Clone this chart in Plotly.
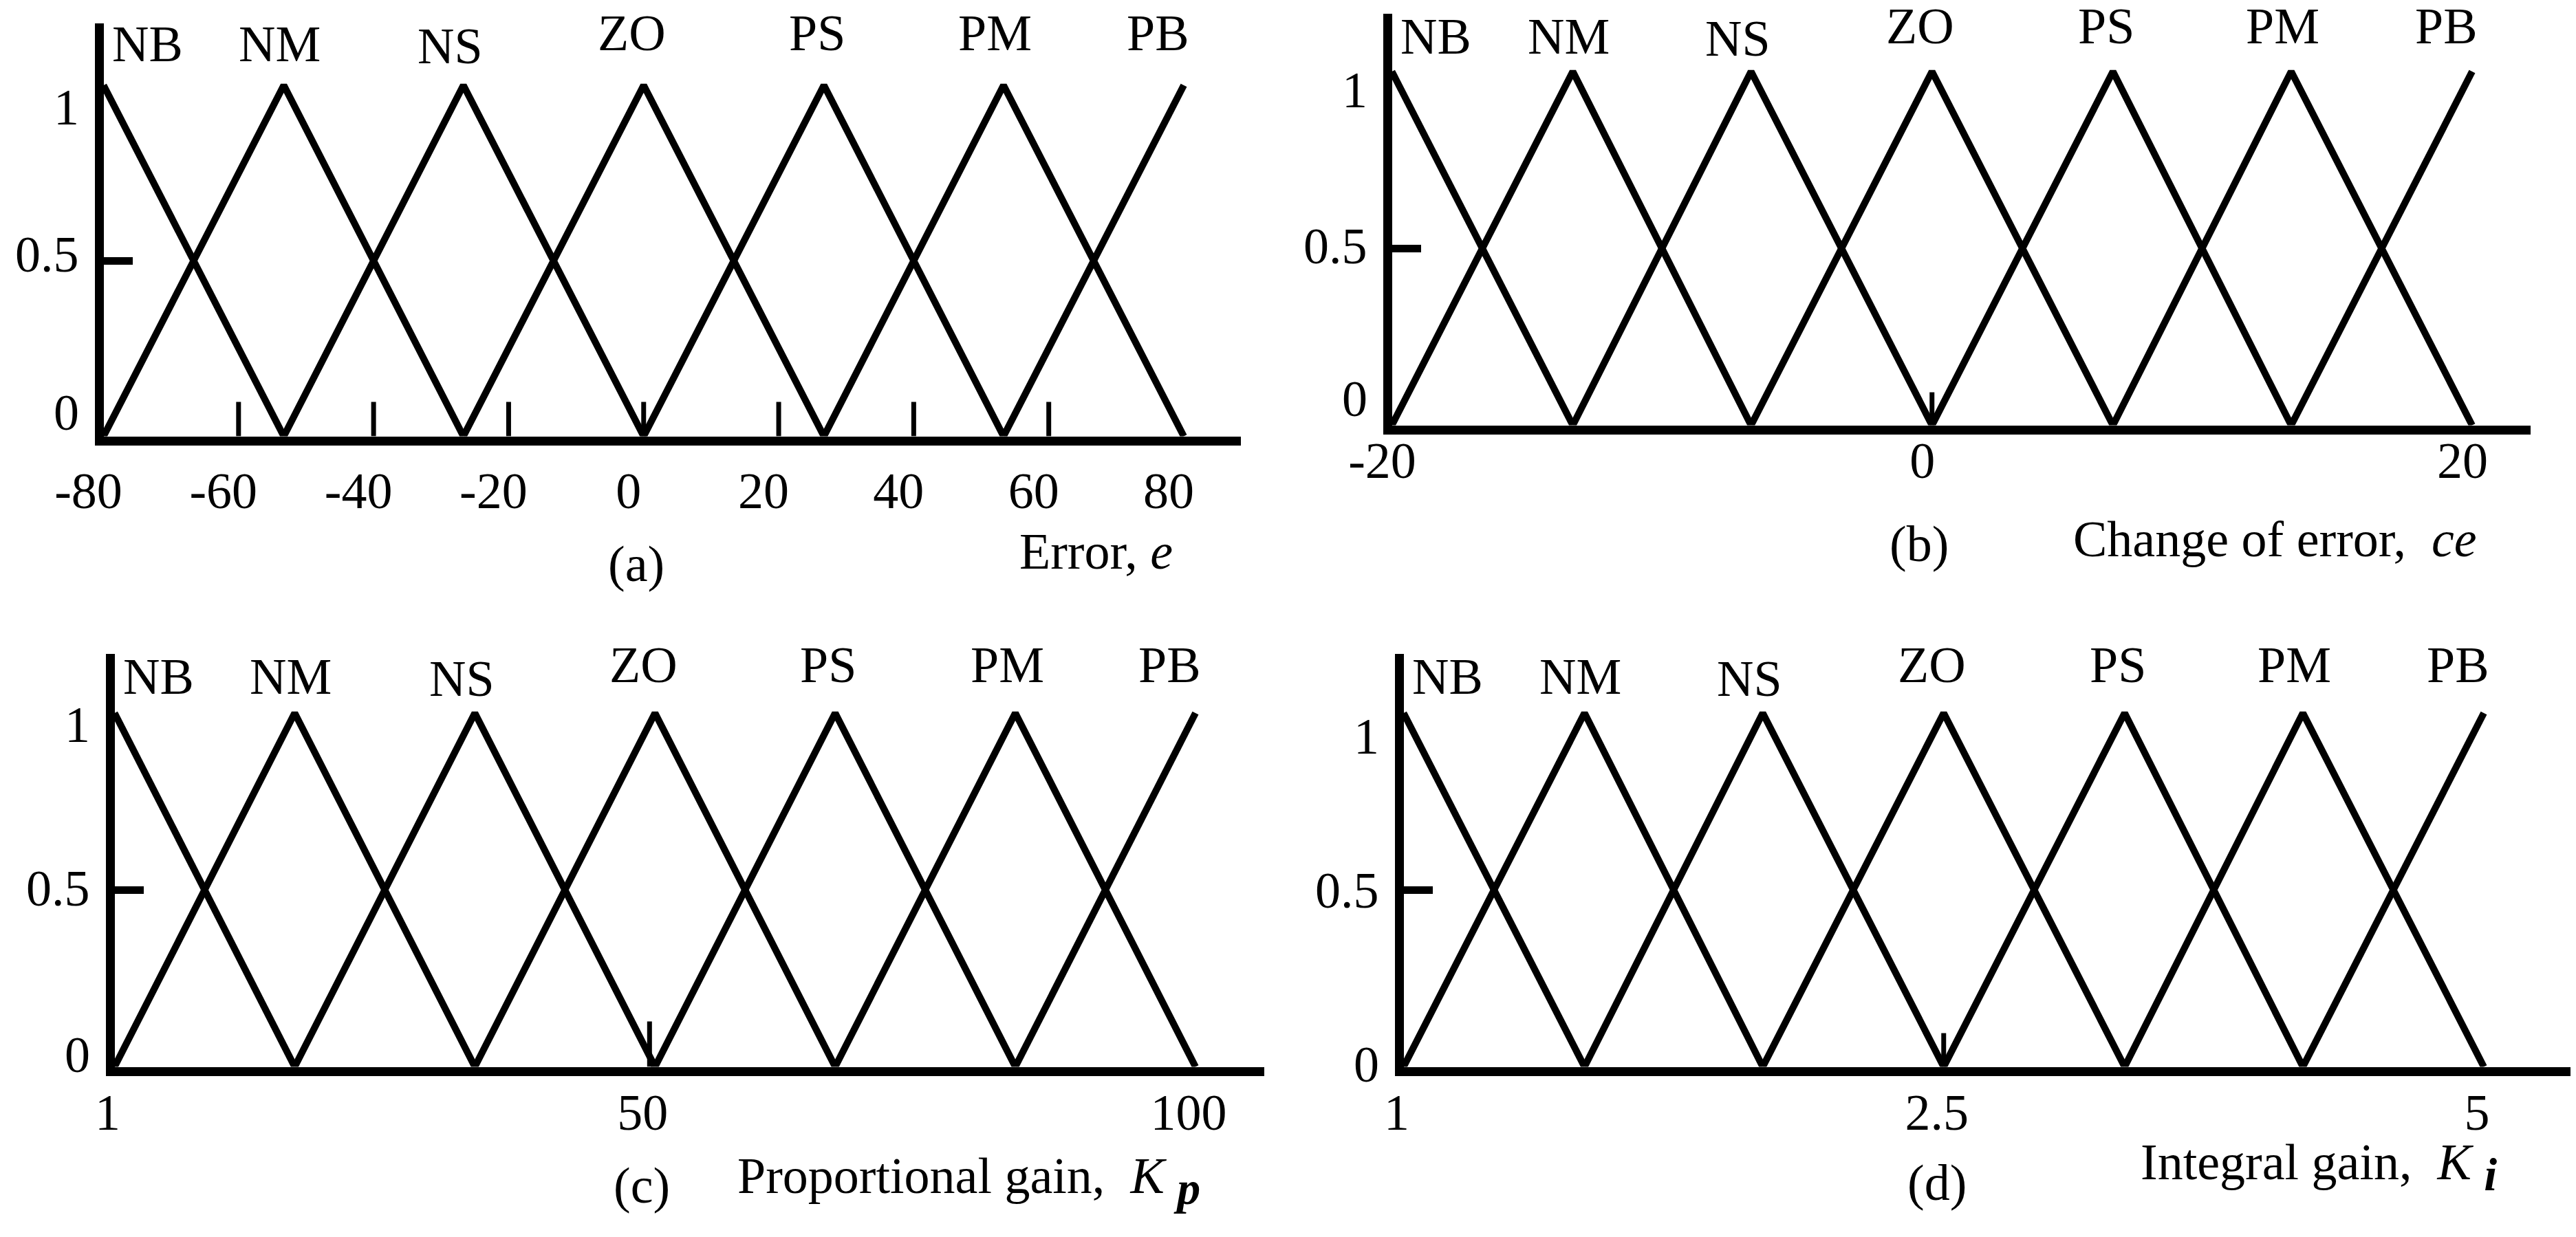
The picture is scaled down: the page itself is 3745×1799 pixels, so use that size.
import plotly.graph_objects as go

W, H = 3745, 1799
FONT = "Liberation Serif, Times New Roman, serif"
FS = 74

set_names = ["NB", "NM", "NS", "ZO", "PS", "PM", "PB"]

# peaks of the triangular membership functions
centers_e = [-80, -53.3, -26.7, 0, 26.7, 53.3, 80]
centers_ce = [-20, -13.3, -6.7, 0, 6.7, 13.3, 20]
centers_kp = [1, 17.5, 34, 50.5, 67, 83.5, 100]
centers_ki = [1, 1.67, 2.33, 3, 3.67, 4.33, 5]

# tick labels under each x axis
ticks_e = [-80, -60, -40, -20, 0, 20, 40, 60, 80]
ticks_ce = [-20, 0, 20]
ticks_kp = [1, 50, 100]
ticks_ki = [1, 3, 5]
ticktext_ki = ["1", "2.5", "5"]

# short tick marks standing on the x axis
marks_e = [-60, -40, -20, 0, 20, 40, 60]
marks_ce = [0]
marks_kp = [50]
marks_ki = [3]

ylabels = ["0", "0.5", "1"]

# horizontal offsets (px) of the NB..PB labels from their peaks
lab_dx = [64, -6, -19, -17, -10, -12, -38]

UP = 14  # annotations with yanchor middle sit a bit low, lift them

SUB = '<sub><span style="font-size:68px"><b><i>%s</i></b></span></sub>'

# pixel geometry of each panel: axis line centres, top of y axis, end of x axis,
# pixel of last peak, pixel height of the peaks; lab_dy = label heights above the peaks
panels = [
    dict(c=centers_e, tv=ticks_e, tt=[str(t) for t in ticks_e], marks=marks_e,
         ax=136, ay=633, top=26, right=1796, last=1713, peak=116, mlen=50,
         lab_dy=[46, 46, 43, 62, 62, 62, 62],
         ylab=[0.04, 0.49, 0.91], shift=-22, standoff=3,
         tag="(a)", tag_xy=(917, 826), title="Error, <i>e</i>", title_xy=(1472, 808)),
    dict(c=centers_ce, tv=ticks_ce, tt=[str(t) for t in ticks_ce], marks=marks_ce,
         ax=2009, ay=617, top=12, right=3671, last=3586, peak=96, mlen=48,
         lab_dy=[37, 37, 34, 52, 52, 52, 52],
         ylab=[0.047, 0.48, 0.92], shift=-14, standoff=-25,
         tag="(b)", tag_xy=(2782, 797), title="Change of error,  <i>ce</i>", title_xy=(3004, 790)),
    dict(c=centers_kp, tv=ticks_kp, tt=[str(t) for t in ticks_kp], marks=marks_kp,
         ax=152, ay=1550, top=943, right=1830, last=1730, peak=1029, mlen=66,
         lab_dy=[39, 39, 36, 56, 56, 56, 56],
         ylab=[0.006, 0.478, 0.94], shift=-10, standoff=-10,
         tag="(c)", tag_xy=(925, 1730),
         title="Proportional gain,  <i>K</i> " + SUB % "p", title_xy=(1062, 1723)),
    dict(c=centers_ki, tv=ticks_ki, tt=ticktext_ki, marks=marks_ki,
         ax=2026, ay=1550, top=943, right=3738, last=3603, peak=1029, mlen=49,
         lab_dy=[39, 39, 36, 56, 56, 56, 56],
         ylab=[-0.02, 0.472, 0.907], shift=-10, standoff=-10,
         tag="(d)", tag_xy=(2808, 1726),
         title="Integral gain,  <i>K</i> " + SUB % "i", title_xy=(3102, 1703)),
]

fig = go.Figure()
annotations = []
shapes = []
layout = {}
txt = dict(family=FONT, size=FS, color="black")

for k, p in enumerate(panels):
    n = "" if k == 0 else str(k + 1)
    xa, ya = "x" + n, "y" + n
    c = p["c"]

    L = p["ax"] + 6.5
    B = p["ay"] - 6.5
    sx = (p["last"] - L) / (c[-1] - c[0])
    sy = B - p["peak"]
    xr = [c[0], c[0] + (p["right"] - L) / sx]
    ytop = (B - p["top"]) / sy

    # triangles
    for j in range(len(c)):
        if j == 0:
            xs, ys = [c[0], c[1]], [1, 0]
        elif j == len(c) - 1:
            xs, ys = [c[j - 1], c[j]], [0, 1]
        else:
            xs, ys = [c[j - 1], c[j], c[j + 1]], [0, 1, 0]
        fig.add_trace(go.Scatter(x=xs, y=ys, mode="lines", xaxis=xa, yaxis=ya,
                                 line=dict(color="black", width=10), hoverinfo="skip"))
        annotations.append(dict(x=c[j], y=1, xref=xa, yref=ya, text=set_names[j],
                                showarrow=False, xshift=lab_dx[j], yshift=p["lab_dy"][j] + UP,
                                xanchor="center", yanchor="middle", font=txt))

    for m in p["marks"]:
        shapes.append(dict(type="line", xref=xa, yref=ya, x0=m, x1=m, y0=0, y1=p["mlen"] / sy,
                           line=dict(color="black", width=7)))

    # y labels sit a little off their true height in the reference, so place them in paper space
    for t, yv in zip(ylabels, p["ylab"]):
        annotations.append(dict(x=(p["ax"] - 27) / W, y=1 - (B - yv * sy - UP) / H,
                                xref="paper", yref="paper", text=t, showarrow=False,
                                xanchor="right", yanchor="middle", font=txt))

    annotations.append(dict(x=p["tag_xy"][0] / W, y=1 - (p["tag_xy"][1] - UP) / H,
                            xref="paper", yref="paper", text=p["tag"], showarrow=False,
                            xanchor="center", yanchor="middle", font=txt))
    annotations.append(dict(x=p["title_xy"][0] / W, y=1 - (p["title_xy"][1] - UP) / H,
                            xref="paper", yref="paper", text=p["title"], showarrow=False,
                            xanchor="left", yanchor="middle", font=txt))

    layout["xaxis" + n] = dict(
        domain=[L / W, p["right"] / W], range=xr, anchor=ya, automargin=False,
        showline=True, linewidth=13, linecolor="black",
        showgrid=False, zeroline=False, ticks="",
        tickmode="array", tickvals=p["tv"], ticktext=p["tt"],
        tickfont=txt, ticklabelstandoff=p["standoff"], ticklabelshift=p["shift"],
    )
    layout["yaxis" + n] = dict(
        domain=[1 - B / H, 1 - p["top"] / H], range=[0, ytop], anchor=xa, automargin=False,
        showline=True, linewidth=13, linecolor="black",
        showgrid=False, zeroline=False,
        ticks="inside", tickmode="array", tickvals=[0.5], ticklen=42, tickwidth=11,
        tickcolor="black", showticklabels=False,
    )

fig.update_layout(
    width=W, height=H, autosize=False,
    margin=dict(l=0, r=0, t=0, b=0, autoexpand=False),
    paper_bgcolor="white", plot_bgcolor="white",
    showlegend=False, annotations=annotations, shapes=shapes,
    **layout,
)

fig.write_html("out.html")
